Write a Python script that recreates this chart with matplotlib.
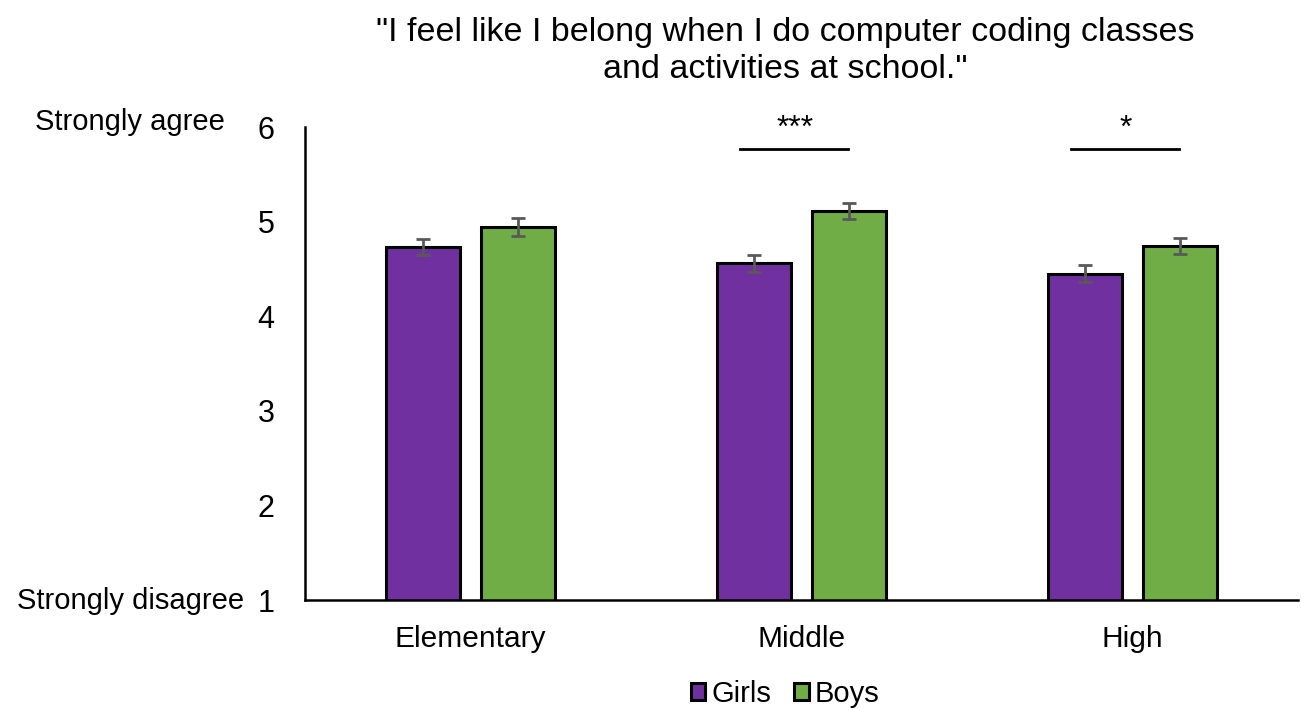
from matplotlib import pyplot as plt
import numpy as np

plt.rcParams['font.family'] = ['Liberation Sans', 'DejaVu Sans']

# data
levels = ["Elementary", "Middle", "High"]
girls = [4.73, 4.56, 4.45]
boys = [4.94, 5.11, 4.74]
girls_err = [0.088, 0.09, 0.09]
boys_err = [0.094, 0.086, 0.083]
sig_labels = ["", "***", "*"]
sig_height = 5.77

purple = "#7030A0"
green = "#70AD47"

fig = plt.figure(figsize=(13.01, 7.10), dpi=100)
ax = fig.add_axes([0.2344, 0.1549, 0.7633, 0.6662])

x = np.arange(len(levels))
w = 0.224
off = 0.143

ax.bar(x - off, girls, w, color=purple, edgecolor="black", linewidth=2.2, label="Girls", zorder=2)
ax.bar(x + off, boys, w, color=green, edgecolor="black", linewidth=2.2, label="Boys", zorder=2)
ax.errorbar(x - off, girls, yerr=girls_err, fmt="none", ecolor="#595959", elinewidth=2, capsize=5, capthick=2, zorder=3)
ax.errorbar(x + off, boys, yerr=boys_err, fmt="none", ecolor="#595959", elinewidth=2, capsize=5, capthick=2, zorder=3)

# significance markers
for i, s in enumerate(sig_labels):
    if s:
        ax.plot([x[i] - 0.185, x[i] + 0.14], [sig_height, sig_height], color="black", lw=2)
        ax.text(x[i] - 0.02, sig_height + 0.05, s, ha="center", va="bottom", fontsize=23)

ax.set_xlim(-0.5, 2.5)
ax.set_ylim(1, 6)
ax.set_yticks([1, 2, 3, 4, 5, 6])
ax.set_xticks(x)
ax.set_xticklabels(levels)
ax.tick_params(axis="both", length=0)
ax.tick_params(axis="y", pad=22, labelsize=22)
ax.tick_params(axis="x", pad=18, labelsize=21.5)
for sp in ["top", "right"]:
    ax.spines[sp].set_visible(False)
for sp in ["left", "bottom"]:
    ax.spines[sp].set_linewidth(1.8)

fig.text(0.1, 1 - 122 / 710, "Strongly agree", ha="center", va="center", fontsize=21)
fig.text(0.1, 1 - 601 / 710, "Strongly disagree", ha="center", va="center", fontsize=21)

fig.text(785 / 1301, 1 - 51 / 710, '"I feel like I belong when I do computer coding classes\nand activities at school."',
         ha="center", va="center", fontsize=24.5, linespacing=1.25)

fig.legend(loc="center", bbox_to_anchor=(785 / 1301, 1 - 694 / 710), ncol=2, frameon=False,
           fontsize=21, handlelength=0.5, handleheight=0.5, handletextpad=0.2, columnspacing=0.8)

plt.savefig("out.png", dpi=100)
